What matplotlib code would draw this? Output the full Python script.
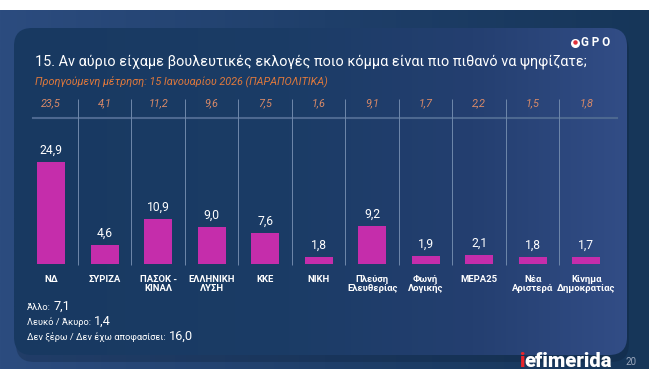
import numpy as np
import matplotlib.pyplot as plt
from matplotlib.colors import LinearSegmentedColormap
from matplotlib.patches import FancyBboxPatch

plt.rcParams['font.family'] = ['Roboto', 'DejaVu Sans']

# δεδομένα
parties = ['ΝΔ', 'ΣΥΡΙΖΑ', 'ΠΑΣΟΚ -\nΚΙΝΑΛ', 'ΕΛΛΗΝΙΚΗ\nΛΥΣΗ', 'ΚΚΕ', 'ΝΙΚΗ',
           'Πλεύση\nΕλευθερίας', 'Φωνή\nΛογικής', 'ΜΕΡΑ25', 'Νέα\nΑριστερά',
           'Κίνημα\nΔημοκρατίας']
current = [24.9, 4.6, 10.9, 9.0, 7.6, 1.8, 9.2, 1.9, 2.1, 1.8, 1.7]
previous = [23.5, 4.1, 11.2, 9.6, 7.5, 1.6, 9.1, 1.7, 2.2, 1.5, 1.8]
other_labels = ['Άλλο:', 'Λευκό / Άκυρο:', 'Δεν ξέρω / Δεν έχω αποφασίσει:']
other_values = [7.1, 1.4, 16.0]

title = '15. Αν αύριο είχαμε βουλευτικές εκλογές ποιο κόμμα είναι πιο πιθανό να ψηφίζατε;'
subtitle = 'Προηγούμενη μέτρηση: 15 Ιανουαρίου 2026 (ΠΑΡΑΠΟΛΙΤΙΚΑ)'


def fmt(v):
    return f'{v:.1f}'.replace('.', ',')


W, H = 649, 377
fig = plt.figure(figsize=(W / 100, H / 100), dpi=100)
fig.patch.set_facecolor('white')

# φόντο
bg = fig.add_axes([0, 0, 1, 1])
bg.set_xlim(0, W)
bg.set_ylim(H, 0)
bg.axis('off')

outer_cmap = LinearSegmentedColormap.from_list('outer', ['#2c4c7f', '#1f3f6a', '#163659'])
grad = np.linspace(0, 1, 256).reshape(1, -1)
bg.imshow(grad, cmap=outer_cmap, extent=(0, W, 369, 10), aspect='auto', zorder=0)

# σκιά πάνελ
shadow = FancyBboxPatch((16, 32), 613, 330, boxstyle='round,pad=0,rounding_size=18',
                        fc='#0f2440', ec='none', alpha=0.35, zorder=1)
bg.add_patch(shadow)

panel = FancyBboxPatch((14, 28), 613, 327, boxstyle='round,pad=0,rounding_size=18',
                       fc='none', ec='none', zorder=2)
bg.add_patch(panel)
panel_cmap = LinearSegmentedColormap.from_list(
    'panel', [(0, '#183961'), (0.45, '#1b3c66'), (0.75, '#243f70'), (1, '#324d86')])
img = bg.imshow(grad, cmap=panel_cmap, extent=(14, 627, 355, 28), aspect='auto', zorder=2)
img.set_clip_path(panel)

# κείμενα κεφαλίδας
bg.text(35, 62, title, color='white', fontsize=10.4, va='center', ha='left', zorder=5)
bg.text(35, 81, subtitle, color='#e0793c', fontsize=7.8, style='italic',
        va='center', ha='left', zorder=5)

# λογότυπο GPO
bg.plot([575], [43], 'o', ms=5.5, color='white', zorder=5)
bg.plot([575], [41.5], 'o', ms=2.2, color='#e0303a', zorder=6)
bg.text(581, 43, 'G P O', color='white', fontsize=8.5, fontweight='bold',
        va='center', ha='left', zorder=5)

# γραμμή κάτω από προηγούμενη μέτρηση
bg.plot([33, 617], [118, 118], color='#4d6890', lw=1.5, zorder=3)

# γράφημα
ax = fig.add_axes([24.4 / W, 113 / H, 588.5 / W, 30 * 4.096 / H])
ax.set_facecolor('none')
ax.set_zorder(3)
x = np.arange(len(parties))
ax.bar(x, current, width=0.52, color='#c52dab', zorder=3)
ax.set_xlim(-0.5, len(parties) - 0.5)
ax.set_ylim(0, 30)
for s in ax.spines.values():
    s.set_visible(False)
ax.set_yticks([])
ax.set_xticks(x, parties)
ax.tick_params(axis='x', length=0, pad=8)
for lab in ax.get_xticklabels():
    lab.set_color('white')
    lab.set_fontsize(6.8)
    lab.set_fontweight('bold')
    lab.set_linespacing(1.0)

ax.vlines(x[:-1] + 0.5, -0.3, 40.2, color='#6f88ab', lw=0.7, clip_on=False, zorder=2)

for xi, v in zip(x, current):
    ax.text(xi, v + 1.3, fmt(v), color='white', fontsize=8.7, ha='center', va='bottom')
for xi, v in zip(x, previous):
    ax.text(xi, 39.3, fmt(v), color='#d98a68', fontsize=7.8, style='italic',
            ha='center', va='center', clip_on=False)

# υπόλοιπες απαντήσεις
renderer = fig.canvas.get_renderer()
for i, (lab, v) in enumerate(zip(other_labels, other_values)):
    y = 310 + 15 * i
    t = bg.text(27, y, lab, color='white', fontsize=6.7, va='baseline',
                ha='left', zorder=5)
    bb = t.get_window_extent(renderer).transformed(bg.transData.inverted())
    bg.text(bb.x1 + 3, y, fmt(v), color='white', fontsize=9.2, va='baseline',
            ha='left', zorder=5)

# λογότυπο efimerida
t = bg.text(519, 367, 'i', color='#e8252b', fontsize=14.5, fontweight='black',
            va='baseline', ha='left', zorder=5)
bg.annotate('efimerida', xy=(1, 0), xycoords=t, color='white', fontsize=14.5,
            fontweight='black', va='bottom', ha='left', zorder=5)
bg.text(625, 362, '20', color='#9aa7bd', fontsize=7, va='center', ha='left', zorder=5)

fig.savefig('out.png', dpi=100)
